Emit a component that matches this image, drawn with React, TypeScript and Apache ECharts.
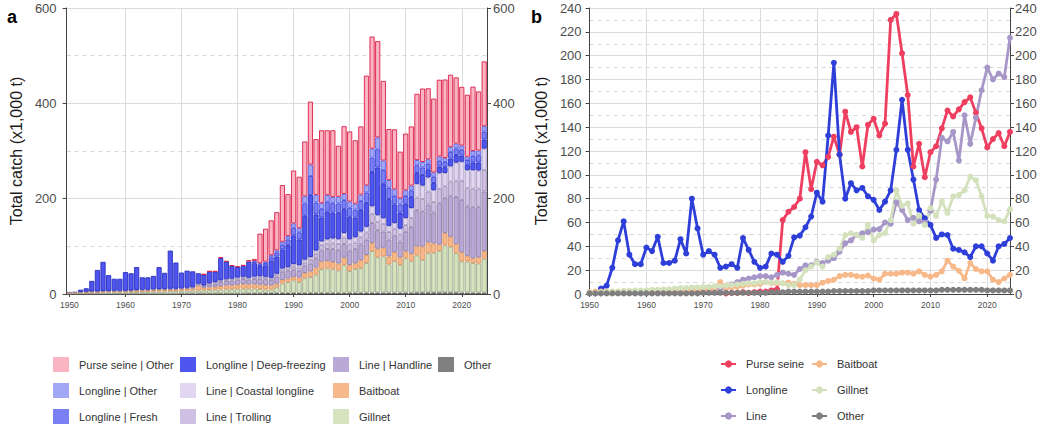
import React, { useEffect, useRef } from "react";
import * as echarts from "echarts";

// ---------- categories ----------
const years: string[] = [];
for (let y = 1950; y <= 2024; y++) years.push(String(y));

// ---------- panel b: gear totals (x1,000 t), 1950..2024 ----------
const purseSeine = [
  null, null, null, null, null, null, null, null, null, null,
  null, null, null, null, null, null, null, null, null, null,
  null, null, null, null, 0.5, 1, 1, 1.5, 1, 1.5,
  2, 2, 3, 4, 62, 69, 73, 80, 119, 88,
  111, 108, 115, 132, 117, 153, 136, 140, 107, 142,
  147, 133, 143, 230, 235, 202, 167, 107, 126, 98,
  119, 124, 139, 154, 149, 155, 161, 165, 152, 139,
  123, 130, 135, 124, 136,
];
const longline = [
  null, null, 4.5, 7, 22, 45, 61, 33, 25, 25,
  39, 36, 48, 26, 26, 28, 46, 34, 80, 55,
  33, 36, 33, 22, 23, 25, 22, 47, 37, 27,
  22, 23, 34, 33, 27, 32, 47.5, 49, 56, 65,
  85, 77.5, 133, 194, 117, 80, 93, 87, 89, 82,
  79, 70.5, 77.5, 87, 121, 163, 121, 96, 70.5, 63.5,
  58, 47, 50, 49.5, 38, 37, 35, 31, 40, 40,
  34, 28, 40, 42, 47,
];
const line = [
  0.5, 0.5, 0.5, 1, 1, 1, 1, 1, 1, 1,
  1, 1, 1.5, 1.5, 1.5, 2, 2, 2, 2, 2,
  2, 2.5, 3, 4, 5, 8, 10, 12, 13, 14,
  15, 15, 14, 16, 18, 17, 16, 21, 24, 24,
  27, 26, 28, 30, 35.5, 42.5, 45, 49.5, 51, 52,
  54, 54.5, 60, 59, 77, 70.5, 62, 64, 61, 60,
  70, 96, 131, 128, 136, 112, 150, 126, 148, 171,
  190, 180, 185, 182, 215,
];
const baitboat = [
  1.5, 2, 2, 2, 2, 2, 2.5, 2.5, 2.5, 2.5,
  2.5, 2.5, 3, 3, 3, 3, 3, 3, 3, 3,
  3, 3.5, 4, 10, 5, 5.5, 6, 7, 8, 8,
  8.5, 10, 9, 9, 9, 9.5, 8.5, 7.5, 7.5, 7.5,
  7.5, 9.5, 11, 12, 15, 16, 16, 15, 14.5, 15.5,
  13, 12, 17, 17, 17, 18, 18, 17, 19, 16,
  14.5, 16, 19, 28, 23, 19.5, 13, 26, 21, 19,
  19, 12, 10, 13, 16,
];
const gillnet = [
  1, 1, 1.5, 1.5, 2, 2, 2.5, 2.5, 3, 3,
  3, 3.5, 3.5, 4, 4, 4.5, 5, 5, 5.5, 5.5,
  6, 6, 6.5, 6.5, 7, 7.5, 8, 8.5, 9, 9,
  10, 10, 9.5, 10, 9, 7.5, 7.5, 12, 20, 23,
  26.5, 23, 31, 33, 38, 49.5, 51, 49.5, 47, 58,
  45, 49.5, 51, 62, 87, 74, 76, 59, 66, 58,
  72, 65.5, 77.5, 68, 82, 83, 87, 98.5, 95.5, 82,
  65.5, 65, 62, 61, 71,
];
const other = [
  0.5, 0.5, 0.5, 0.5, 0.5, 0.5, 0.5, 0.5, 0.5, 0.5,
  0.5, 0.5, 0.5, 0.5, 0.5, 0.5, 0.5, 0.5, 0.5, 0.5,
  1, 1, 1, 1, 1, 1, 1, 1, 1, 1,
  1, 1, 1.5, 1.5, 1.5, 2, 2, 2, 2, 2,
  2, 2, 2, 2.5, 2.5, 2.5, 2.5, 2.5, 2.5, 2.5,
  3, 3, 3, 3, 3, 3, 3, 3, 3, 3,
  3, 3, 3.5, 3.5, 3.5, 3.5, 3.5, 3.5, 3.5, 3.5,
  3, 3, 3, 3, 3,
];

// ---------- panel a: sub-fleets (x1,000 t) ----------
const llDeepFreezing = [
  0, 0, 4.5, 7, 22, 45, 61, 33, 25, 25,
  39, 36, 48, 26, 26, 28, 46, 34, 80, 55,
  33, 36, 33, 22, 23, 25, 22, 47, 37, 27,
  22, 23, 34, 28, 21, 24, 36, 36, 40, 46,
  60, 54, 92, 130, 76, 50, 58, 54, 55, 50,
  47, 41, 45, 50, 72, 100, 72, 56, 39, 34,
  30, 23, 23, 22, 16, 15, 14, 12, 16, 16,
  13, 11, 16, 17, 19,
];
const llFresh = [
  0, 0, 0, 0, 0, 0, 0, 0, 0, 0,
  0, 0, 0, 0, 0, 0, 0, 0, 0, 0,
  0, 0, 0, 0, 0, 0, 0, 0, 0, 0,
  0, 0, 0, 3, 4, 5, 7, 8, 10, 12,
  16, 15, 26, 40, 25, 18, 21, 20, 20, 19,
  19, 17, 19, 22, 30, 38, 29, 24, 18, 17,
  16, 14, 16, 16, 13, 13, 12, 11, 14, 14,
  12, 10, 14, 15, 17,
];
const llOther = [
  0, 0, 0, 0, 0, 0, 0, 0, 0, 0,
  0, 0, 0, 0, 0, 0, 0, 0, 0, 0,
  0, 0, 0, 0, 0, 0, 0, 0, 0, 0,
  0, 0, 0, 2, 2, 3, 4.5, 5, 6, 7,
  9, 8.5, 15, 24, 16, 12, 14, 13, 14, 13,
  13, 12.5, 13.5, 15, 19, 25, 20, 16, 13.5, 12.5,
  12, 10, 11, 11.5, 9, 9, 9, 8, 10, 10,
  9, 7, 10, 10, 11,
];
const lineHandline = [
  0.5, 0.5, 0.5, 1, 1, 1, 1, 1, 1, 1,
  1, 1, 1.5, 1.5, 1.5, 2, 2, 2, 2, 2,
  2, 2.5, 3, 4, 4, 6, 7, 8.5, 9, 10,
  10.5, 10.5, 10, 11, 12.5, 12, 11, 15, 17, 17,
  15, 14, 15, 16, 19.5, 23.5, 25, 27.5, 28, 29,
  30, 30, 33, 32, 42, 39, 34, 35, 34, 33,
  41, 56, 76, 74, 79, 65, 87, 73, 86, 99,
  110, 104, 107, 106, 125,
];
const lineTrolling = [
  0, 0, 0, 0, 0, 0, 0, 0, 0, 0,
  0, 0, 0, 0, 0, 0, 0, 0, 0, 0,
  0, 0, 0, 0, 1, 2, 3, 3.5, 4, 4,
  4.5, 4.5, 4, 5, 5.5, 5, 5, 6, 7, 7,
  7, 7, 7, 8, 9, 11, 11, 12, 13, 13,
  13, 13.5, 15, 15, 19, 17.5, 16, 16, 15, 15,
  14, 19, 26, 26, 27, 22, 30, 25, 30, 34,
  40, 38, 39, 38, 45,
];
const lineCoastal = [
  0, 0, 0, 0, 0, 0, 0, 0, 0, 0,
  0, 0, 0, 0, 0, 0, 0, 0, 0, 0,
  0, 0, 0, 0, 0, 0, 0, 0, 0, 0,
  0, 0, 0, 0, 0, 0, 0, 0, 0, 0,
  5, 5, 6, 6, 7, 8, 9, 10, 10, 10,
  11, 11, 12, 12, 16, 14, 12, 13, 12, 12,
  15, 21, 29, 28, 30, 25, 33, 28, 32, 38,
  40, 38, 39, 38, 45,
];

const FONT = "'Liberation Sans', Arial, Helvetica, sans-serif";
const AXIS = "#444444";
const TICKTXT = "#4d4d4d";
const GRID = "#dcdcdc";
const MINOR = "#d6d6d6";

const decade = (_i: number, v: string) => Number(v) % 10 === 0;
const decadeGrid = (_i: number, v: string) => Number(v) % 10 === 0 && v !== "1950";

const barDefs = [
  { name: "Other", data: other, fill: "#808080", border: "#606060" },
  { name: "Gillnet", data: gillnet, fill: "#D5E4BF", border: "#A3AD90" },
  { name: "Baitboat", data: baitboat, fill: "#F7B98B", border: "#E0955E" },
  { name: "Line | Handline", data: lineHandline, fill: "#BAA8D6", border: "#9080AA" },
  { name: "Line | Trolling", data: lineTrolling, fill: "#CEBFE3", border: "#9E90B5" },
  { name: "Line | Coastal longline", data: lineCoastal, fill: "#E2D7F3", border: "#AA9EC2" },
  { name: "Longline | Deep-freezing", data: llDeepFreezing, fill: "#4F56F0", border: "#2A30C0" },
  { name: "Longline | Fresh", data: llFresh, fill: "#7A80F4", border: "#3C43D8" },
  { name: "Longline | Other", data: llOther, fill: "#A2A8F6", border: "#5D64E6" },
  { name: "Purse seine | Other", data: purseSeine, fill: "#FBB4C1", border: "#D81E48" },
];

const lineDefs = [
  { name: "Purse seine", data: purseSeine, color: "#EF3F61" },
  { name: "Longline", data: longline, color: "#2E3ED8" },
  { name: "Line", data: line, color: "#A797C8" },
  { name: "Baitboat", data: baitboat, color: "#F7B88A" },
  { name: "Gillnet", data: gillnet, color: "#D3E2BC" },
  { name: "Other", data: other, color: "#7F7F7F" },
];

const legendColsA = [
  { left: 53, names: ["Purse seine | Other", "Longline | Other", "Longline | Fresh"] },
  { left: 180, names: ["Longline | Deep-freezing", "Line | Coastal longline", "Line | Trolling"] },
  { left: 333, names: ["Line | Handline", "Baitboat", "Gillnet"] },
  { left: 438, names: ["Other"] },
];
const legendColsB = [
  { left: 195, names: ["Purse seine", "Longline", "Line"] },
  { left: 286, names: ["Baitboat", "Gillnet", "Other"] },
];

function yAxes(max: number, interval: number, nameGap: number, leftMargin: number, rightMargin: number) {
  const common = {
    type: "value",
    min: 0,
    max,
    interval,
    axisLine: { show: true, lineStyle: { color: AXIS, width: 1 } },
    axisTick: { show: true, length: 4, lineStyle: { color: AXIS } },
    axisLabel: { fontSize: 13, color: TICKTXT, fontFamily: FONT },
  };
  return [
    {
      ...common,
      position: "left",
      axisLabel: { ...common.axisLabel, margin: leftMargin },
      name: "Total catch (x1,000 t)",
      nameLocation: "middle",
      nameRotate: 90,
      nameGap,
      nameTextStyle: { fontSize: 16, color: "#1a1a1a", fontFamily: FONT },
      splitLine: { show: true, lineStyle: { color: GRID, width: 1 } },
      minorTick: { show: false, splitNumber: 2 },
      minorSplitLine: { show: true, lineStyle: { color: MINOR, width: 1, type: [4, 4] } },
    },
    {
      ...common,
      position: "right",
      axisLabel: { ...common.axisLabel, margin: rightMargin },
      splitLine: { show: false },
    },
  ];
}

function xAxis(boundaryGap: boolean) {
  return {
    type: "category",
    data: years,
    boundaryGap,
    axisLine: { show: true, lineStyle: { color: AXIS, width: 1 } },
    axisTick: { show: true, alignWithLabel: true, interval: decade, length: 3, lineStyle: { color: AXIS } },
    axisLabel: { interval: decade, fontSize: 8.5, color: TICKTXT, margin: 6, fontFamily: FONT },
    splitLine: { show: true, alignWithLabel: true, interval: decadeGrid, lineStyle: { color: GRID, width: 1 } },
  };
}

const optionA: any = {
  animation: false,
  textStyle: { fontFamily: FONT },
  grid: { left: 60, top: 8, width: 427, height: 286 },
  xAxis: xAxis(true),
  yAxis: yAxes(600, 200, 36, 10, 6),
  legend: legendColsA.map((c) => ({
    left: c.left,
    top: 357,
    orient: "vertical",
    icon: "rect",
    itemWidth: 16,
    itemHeight: 15,
    itemGap: 11,
    padding: 0,
    selectedMode: false,
    itemStyle: { borderWidth: 0 },
    textStyle: { fontSize: 11, color: "#333", fontFamily: FONT, padding: [0, 0, 0, 5] },
    data: c.names,
  })),
  graphic: [
    {
      type: "text",
      x: 7,
      y: 17,
      style: { text: "a", fontSize: 18, fontWeight: "bold", fontFamily: FONT, fill: "#000", verticalAlign: "middle" },
    },
  ],
  series: barDefs.map((d) => ({
    type: "bar",
    name: d.name,
    stack: "total",
    xAxisIndex: 0,
    yAxisIndex: 0,
    barCategoryGap: "8%",
    data: d.data.map((v) => (v === null || v === 0 ? null : v)),
    itemStyle: { color: d.fill, borderColor: d.border, borderWidth: 0.9 },
    emphasis: { disabled: true },
  })),
};

const optionB: any = {
  animation: false,
  textStyle: { fontFamily: FONT },
  grid: { left: 58, top: 8, width: 427, height: 286 },
  xAxis: xAxis(false),
  yAxis: yAxes(240, 20, 33, 8, 5),
  legend: legendColsB.map((c) => ({
    left: c.left,
    top: 358.5,
    orient: "vertical",
    itemWidth: 15,
    itemHeight: 9,
    itemGap: 15,
    padding: 0,
    selectedMode: false,
    textStyle: { fontSize: 11, color: "#333", fontFamily: FONT, padding: [0, 0, 0, 5] },
    data: c.names,
  })),
  graphic: [
    {
      type: "text",
      x: 6,
      y: 17,
      style: { text: "b", fontSize: 18, fontWeight: "bold", fontFamily: FONT, fill: "#000", verticalAlign: "middle" },
    },
  ],
  series: lineDefs.map((d) => ({
    type: "line",
    name: d.name,
    data: d.data,
    connectNulls: false,
    symbol: "circle",
    symbolSize: 6,
    showSymbol: true,
    showAllSymbol: true,
    color: d.color,
    lineStyle: { color: d.color, width: 2.8 },
    itemStyle: { color: d.color },
    emphasis: { disabled: true },
  })),
};

export default function App() {
  const refA = useRef<HTMLDivElement>(null);
  const refB = useRef<HTMLDivElement>(null);
  useEffect(() => {
    document.body.style.margin = "0";
    const a = echarts.init(refA.current as HTMLDivElement, undefined, { renderer: "svg" });
    const b = echarts.init(refB.current as HTMLDivElement, undefined, { renderer: "svg" });
    a.setOption(optionA);
    b.setOption(optionB);
    return () => {
      a.dispose();
      b.dispose();
    };
  }, []);
  return (
    <div style={{ position: "absolute", left: 0, top: 0, width: 1050, height: 441, background: "#fff" }}>
      <div ref={refA} style={{ position: "absolute", left: 0, top: 0, width: 525, height: 441 }} />
      <div ref={refB} style={{ position: "absolute", left: 525, top: 0, width: 525, height: 441 }} />
    </div>
  );
}
